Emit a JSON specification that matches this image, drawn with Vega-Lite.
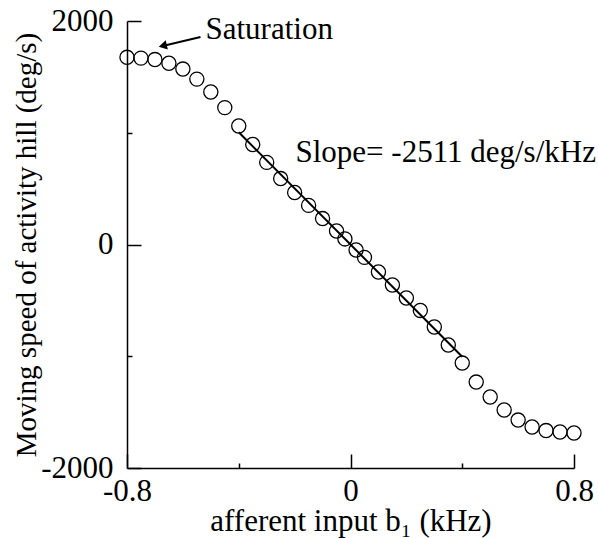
{
  "$schema": "https://vega.github.io/schema/vega-lite/v6.json",
  "width": 447,
  "height": 447,
  "autosize": {"type": "none"},
  "padding": {"left": 127, "top": 21, "right": 24, "bottom": 70},
  "background": "white",
  "config": {
    "view": {"stroke": null},
    "axis": {
      "domainColor": "black",
      "domainWidth": 1.5,
      "tickColor": "black",
      "tickWidth": 1.5,
      "grid": false,
      "labelFont": "Liberation Serif",
      "labelFontSize": 31,
      "labelColor": "black",
      "titleFont": "Liberation Serif",
      "titleFontSize": 31,
      "titleFontWeight": "normal",
      "titleColor": "black"
    }
  },
  "datasets": {
    "pts": [
      {"x": -0.8, "y": 1675}, {"x": -0.75, "y": 1668}, {"x": -0.7, "y": 1655},
      {"x": -0.65, "y": 1622}, {"x": -0.6, "y": 1570}, {"x": -0.55, "y": 1480},
      {"x": -0.5, "y": 1365}, {"x": -0.45, "y": 1225}, {"x": -0.4, "y": 1060},
      {"x": -0.35, "y": 895}, {"x": -0.3, "y": 735}, {"x": -0.25, "y": 590},
      {"x": -0.2, "y": 465}, {"x": -0.15, "y": 350}, {"x": -0.1, "y": 232},
      {"x": -0.05, "y": 121}, {"x": -0.02, "y": 50}, {"x": 0.02, "y": -49},
      {"x": 0.05, "y": -115}, {"x": 0.1, "y": -246}, {"x": 0.15, "y": -362},
      {"x": 0.2, "y": -479}, {"x": 0.25, "y": -590}, {"x": 0.3, "y": -738},
      {"x": 0.35, "y": -899}, {"x": 0.4, "y": -1061}, {"x": 0.45, "y": -1231},
      {"x": 0.5, "y": -1365}, {"x": 0.55, "y": -1481}, {"x": 0.6, "y": -1571},
      {"x": 0.65, "y": -1633}, {"x": 0.7, "y": -1665}, {"x": 0.75, "y": -1678},
      {"x": 0.8, "y": -1687}
    ],
    "fit": [{"x": -0.4, "y": 1004}, {"x": 0.4, "y": -1004}],
    "ann": [
      {"x": -0.519, "y": 1919, "label": "Saturation"},
      {"x": -0.197, "y": 819, "label": "Slope= -2511 deg/s/kHz"}
    ],
    "arrow": [{"x": -0.537, "y": 1857, "x2": -0.665, "y2": 1781}],
    "head": [{"x": -0.672, "y": 1778}]
  },
  "encoding": {
    "x": {
      "field": "x", "type": "quantitative",
      "scale": {"domain": [-0.8, 0.8], "nice": false, "zero": false},
      "axis": {
        "orient": "bottom",
        "title": "afferent input b₁ (kHz)",
        "values": [-0.8, -0.4, 0, 0.4, 0.8],
        "labelExpr": "abs(datum.value) == 0.4 ? '' : (datum.value == 0 ? '0' : (datum.value < 0 ? '-' : '') + format(abs(datum.value), '.1f'))",
        "tickSize": {"condition": {"test": "abs(datum.value) == 0.4", "value": -5}, "value": -14},
        "labelPadding": 22,
        "labelFlush": false,
        "labelOverlap": false,
        "titlePadding": -9
      }
    },
    "y": {
      "field": "y", "type": "quantitative",
      "scale": {"domain": [-2000, 2000], "nice": false, "zero": false},
      "axis": {
        "orient": "left",
        "title": "Moving speed of activity hill (deg/s)",
        "titleFontSize": 29,
        "values": [-2000, -1000, 0, 1000, 2000],
        "labelExpr": "abs(datum.value) == 1000 ? '' : (datum.value < 0 ? '-' : '') + abs(datum.value)",
        "tickSize": {"condition": {"test": "abs(datum.value) == 1000", "value": -5}, "value": -14},
        "labelPadding": 28,
        "labelFlush": false,
        "labelOverlap": false,
        "titlePadding": -1
      }
    }
  },
  "layer": [
    {
      "data": {"name": "fit"},
      "mark": {"type": "line", "color": "black", "strokeWidth": 2}
    },
    {
      "data": {"name": "pts"},
      "mark": {"type": "point", "shape": "circle", "size": 200, "filled": false, "stroke": "black", "strokeWidth": 1.3, "opacity": 1}
    },
    {
      "data": {"name": "ann"},
      "mark": {"type": "text", "align": "left", "baseline": "middle", "font": "Liberation Serif", "fontSize": 31, "color": "black"},
      "encoding": {"text": {"field": "label"}}
    },
    {
      "data": {"name": "arrow"},
      "mark": {"type": "rule", "color": "black", "strokeWidth": 2},
      "encoding": {"x2": {"field": "x2"}, "y2": {"field": "y2"}}
    },
    {
      "data": {"name": "head"},
      "mark": {"type": "point", "shape": "triangle-left", "size": 90, "filled": true, "color": "black", "angle": 347, "opacity": 1}
    }
  ]
}
